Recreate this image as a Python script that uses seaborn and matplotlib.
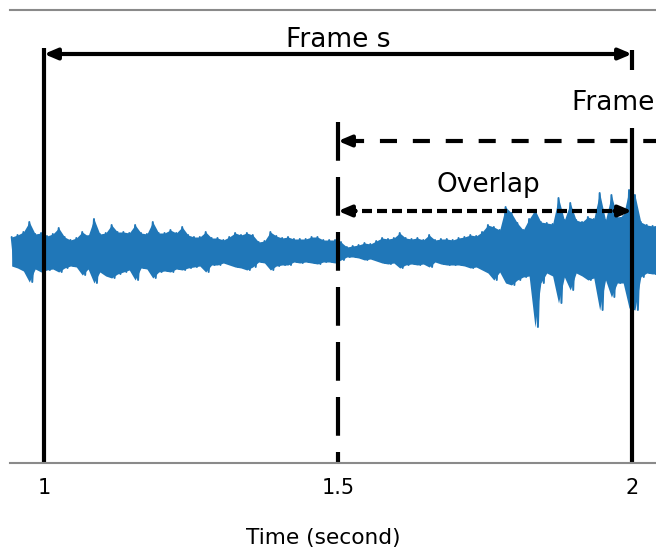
import numpy as np
import pandas as pd
import matplotlib
matplotlib.use("Agg")
import matplotlib.pyplot as plt
import seaborn as sns

# ---------------- data ----------------
time_start = 0.945          # seconds, first sample of the envelope reading
time_step = 0.01            # seconds between envelope readings
upper_env = [0.15, 0.17, 0.20, 0.30, 0.18, 0.19, 0.16, 0.18, 0.24, 0.15,
             0.12, 0.14, 0.20, 0.16, 0.33, 0.18, 0.19, 0.27, 0.20, 0.20,
             0.19, 0.27, 0.19, 0.18, 0.30, 0.19, 0.19, 0.22, 0.19, 0.25,
             0.17, 0.15, 0.15, 0.20, 0.14, 0.14, 0.12, 0.15, 0.19, 0.17,
             0.19, 0.17, 0.10, 0.11, 0.20, 0.16, 0.14, 0.15, 0.13, 0.13,
             0.13, 0.15, 0.15, 0.12, 0.12, 0.12, 0.10, 0.05, 0.06, 0.07,
             0.09, 0.08, 0.11, 0.14, 0.13, 0.14, 0.19, 0.14, 0.13, 0.14,
             0.12, 0.17, 0.12, 0.13, 0.13, 0.12, 0.14, 0.15, 0.17, 0.16,
             0.20, 0.27, 0.25, 0.22, 0.45, 0.39, 0.29, 0.22, 0.33, 0.42,
             0.30, 0.29, 0.28, 0.54, 0.32, 0.49, 0.32, 0.30, 0.35, 0.33,
             0.59, 0.32, 0.57, 0.35, 0.36, 0.62, 0.57, 0.30, 0.27, 0.26,
             0.27]
lower_env = [0.14, 0.16, 0.19, 0.30, 0.17, 0.20, 0.18, 0.17, 0.20, 0.16,
             0.14, 0.15, 0.23, 0.17, 0.31, 0.20, 0.24, 0.26, 0.22, 0.20,
             0.18, 0.28, 0.16, 0.17, 0.26, 0.20, 0.19, 0.20, 0.17, 0.18,
             0.16, 0.15, 0.14, 0.20, 0.13, 0.13, 0.11, 0.13, 0.15, 0.16,
             0.18, 0.15, 0.10, 0.11, 0.18, 0.14, 0.13, 0.13, 0.10, 0.11,
             0.10, 0.11, 0.12, 0.10, 0.10, 0.11, 0.08, 0.05, 0.05, 0.06,
             0.08, 0.07, 0.09, 0.11, 0.12, 0.11, 0.16, 0.13, 0.12, 0.13,
             0.12, 0.15, 0.10, 0.12, 0.13, 0.13, 0.13, 0.14, 0.16, 0.15,
             0.18, 0.21, 0.28, 0.20, 0.31, 0.33, 0.28, 0.25, 0.24, 0.75,
             0.31, 0.21, 0.24, 0.51, 0.25, 0.38, 0.21, 0.24, 0.28, 0.26,
             0.58, 0.28, 0.45, 0.31, 0.31, 0.56, 0.58, 0.25, 0.21, 0.22,
             0.21]
frame_bounds = [1.0, 1.5, 2.0]           # frame s start, frame s+1 start, frame s end
tick_values = [1, 1.5, 2]
tick_labels = ["1", "1.5", "2"]
frame_s_label = "Frame s"
frame_next_label = "Frame s+1"
overlap_label = "Overlap"
x_label = "Time (second)"

# ---------------- build waveform samples ----------------
n = len(upper_env)
t = time_start + time_step * np.arange(n)
up = np.asarray(upper_env)
lo = -np.asarray(lower_env)
xs = np.empty(2 * n)
ys = np.empty(2 * n)
xs[0::2] = t
xs[1::2] = t + time_step / 2
ys[0::2] = up
ys[1::2] = lo
wave = pd.DataFrame({"time": xs, "amp": ys})

# ---------------- style ----------------
sns.set_theme(style="white")
plt.rcParams["font.family"] = ["DejaVu Sans"]
plt.rcParams["text.color"] = "black"
plt.rcParams["xtick.color"] = "black"
plt.rcParams["axes.labelcolor"] = "black"

WAVE = "#2077b8"
fig = plt.figure(figsize=(6.56, 5.58), dpi=100)
ax = fig.add_axes([10 / 656, 95 / 558, 646 / 656, 453 / 558])

ax.fill_between(t, up, lo, color=WAVE, lw=0, zorder=2)
sns.lineplot(data=wave, x="time", y="amp", sort=False, estimator=None,
             color=WAVE, lw=1.4, ax=ax, zorder=3)

ax.set_xlim(1 - 34 / 588, 1 + 612 / 588)
ax.set_ylim(-2.11, 2.42)

f_s, f_next, f_end = frame_bounds
LW = 3.0
# vertical frame boundaries
ax.plot([f_s, f_s], [2.04, -2.3], color="black", lw=LW, zorder=5, solid_capstyle="butt")
ax.plot([f_next, f_next], [1.30, -2.3], color="black", lw=LW, zorder=5,
        linestyle=(0, (9.3, 3.9)))
ax.plot([f_end, f_end], [1.24, -2.3], color="black", lw=LW, zorder=5, solid_capstyle="butt")
ax.plot([f_end, f_end], [2.02, 1.82], color="black", lw=LW, zorder=5, solid_capstyle="butt")

head = dict(arrowstyle="-|>,head_length=0.4,head_width=0.17", color="black",
            lw=LW, mutation_scale=19, shrinkA=0, shrinkB=0)

# Frame s arrow (solid)
y_fs = 1.98
ax.plot([f_s + 0.01, f_end - 0.01], [y_fs, y_fs], color="black", lw=LW, zorder=5)
ax.annotate("", xy=(f_s, y_fs), xytext=(f_s + 0.03, y_fs), arrowprops=head, zorder=6)
ax.annotate("", xy=(f_end, y_fs), xytext=(f_end - 0.03, y_fs), arrowprops=head, zorder=6)
ax.text((f_s + f_end) / 2, 2.05, frame_s_label, ha="center", va="baseline", fontsize=19)

# Frame s+1 arrow (dashed, runs off the right edge)
y_fn = 1.11
ax.plot([f_next + 0.015, f_end + 0.2], [y_fn, y_fn], color="black", lw=LW, zorder=5,
        linestyle=(0, (4.1, 3.8)))
ax.annotate("", xy=(f_next, y_fn), xytext=(f_next + 0.03, y_fn), arrowprops=head, zorder=6)
ax.text(1.898, 1.42, frame_next_label, ha="left", va="baseline", fontsize=19)

# Overlap arrow (short dashes)
y_ov = 0.41
ax.plot([f_next + 0.015, f_end - 0.015], [y_ov, y_ov], color="black", lw=LW, zorder=5,
        linestyle=(0, (2.4, 1.2)))
ax.annotate("", xy=(f_next, y_ov), xytext=(f_next + 0.03, y_ov), arrowprops=head, zorder=6)
ax.annotate("", xy=(f_end, y_ov), xytext=(f_end - 0.03, y_ov), arrowprops=head, zorder=6)
ax.text((f_next + f_end) / 2 + 0.005, 0.60, overlap_label, ha="center", va="baseline", fontsize=19)

# axes cosmetics
for side in ["left", "right"]:
    ax.spines[side].set_visible(False)
for side in ["top", "bottom"]:
    ax.spines[side].set_color("#8a8a8a")
    ax.spines[side].set_linewidth(1.5)
    ax.spines[side].set_zorder(7)
ax.set_yticks([])
ax.set_ylabel("")
ax.set_xticks(tick_values, tick_labels, fontsize=15)
ax.tick_params(axis="x", length=0, pad=11)
ax.set_xlabel(x_label, fontsize=15.6)
ax.xaxis.set_label_coords(0.4845, -0.143)

fig.savefig("out.png", dpi=100)
